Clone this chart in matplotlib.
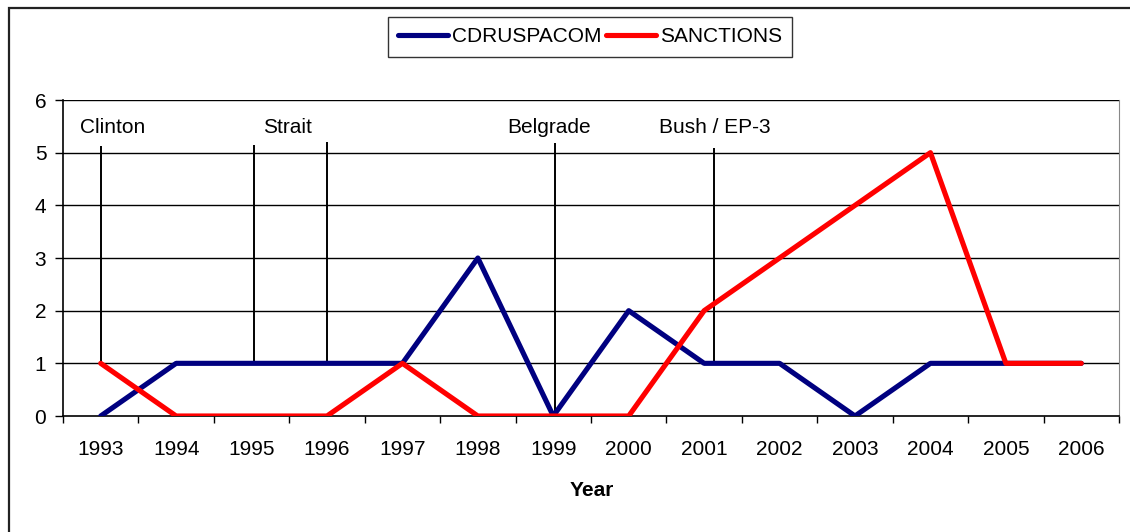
import matplotlib
matplotlib.use("Agg")
import matplotlib.pyplot as plt
from matplotlib.patches import Rectangle
from matplotlib.ticker import FixedLocator, NullFormatter

plt.rcParams['font.family'] = ['Liberation Sans', 'DejaVu Sans']

years = ['1993', '1994', '1995', '1996', '1997', '1998', '1999',
         '2000', '2001', '2002', '2003', '2004', '2005', '2006']
cdruspacom = [0, 1, 1, 1, 1, 3, 0, 2, 1, 1, 0, 1, 1, 1]
sanctions = [1, 0, 0, 0, 1, 0, 0, 0, 2, 3, 4, 5, 1, 1]

# events: (label, label x, line x positions, line bottoms, line tops)
event_labels = ['Clinton', 'Strait', 'Belgrade', 'Bush / EP-3']
event_label_x = [-0.275, 2.15, 5.39, 7.40]
event_line_x = [0.0, 2.03, 3.0, 6.02, 8.13]
event_line_bottom = [1, 1, 1, 0, 1]
event_line_top = [5.13, 5.15, 5.2, 5.18, 5.09]

W, H = 1130, 532
FS = 15
fig = plt.figure(figsize=(W / 100, H / 100), dpi=100)
ax = fig.add_axes([63 / W, 116 / H, (1119 - 63) / W, (416 - 100) / H])

x = list(range(len(years)))

# gridlines
ax.set_ylim(0, 6)
ax.set_xlim(-0.5, len(years) - 0.5)
ax.set_yticks(range(0, 7))
for v in range(1, 7):
    ax.axhline(v, color='black', lw=1.0, zorder=1)

# event lines
for lx, lb, lt in zip(event_line_x, event_line_bottom, event_line_top):
    ax.plot([lx, lx], [lb, lt], color='black', lw=1.4, zorder=2, solid_capstyle='butt')
for lab, lx in zip(event_labels, event_label_x):
    ax.text(lx, 5.47, lab, fontsize=FS, ha='left', va='center', color='black')

l1, = ax.plot(x, cdruspacom, color='#000080', lw=3.7, solid_capstyle='round',
              solid_joinstyle='round', zorder=3, label='CDRUSPACOM')
l2, = ax.plot(x, sanctions, color='#FF0000', lw=3.7, solid_capstyle='round',
              solid_joinstyle='round', zorder=4, label='SANCTIONS')

# axes styling
ax.spines['top'].set_visible(False)
ax.spines['right'].set_color('#888888')
ax.spines['left'].set_color('black')
ax.spines['bottom'].set_color('black')
ax.spines['left'].set_linewidth(1.2)
ax.spines['bottom'].set_linewidth(1.2)

ax.set_xticks(x)
ax.set_xticklabels(years)
ax.tick_params(axis='x', which='major', length=0, pad=17, labelsize=FS)
ax.xaxis.set_minor_locator(FixedLocator([i - 0.5 for i in range(len(years) + 1)]))
ax.xaxis.set_minor_formatter(NullFormatter())
ax.tick_params(axis='x', which='minor', length=5, width=1, color='black', direction='out')
ax.tick_params(axis='y', which='major', length=6, width=1, pad=6, labelsize=FS, direction='out')

fig.text(592 / W, 1 - 491 / H, 'Year', fontsize=FS, fontweight='bold',
         ha='center', va='center')

leg = fig.legend(handles=[l1, l2], loc='center', bbox_to_anchor=(590 / W, 1 - 37 / H),
                 ncol=2, fontsize=FS, frameon=True, fancybox=False, edgecolor='black',
                 handlelength=2.4, handletextpad=0.2, columnspacing=0.2,
                 borderpad=0.5, borderaxespad=0)
leg.get_frame().set_linewidth(1.0)

# outer chart border
fig.patches.append(Rectangle((9 / W, -0.1), 1.2, 1 - 8 / H + 0.1, transform=fig.transFigure,
                             fill=False, edgecolor='#222222', lw=1.6, zorder=0))

fig.savefig('out.png', dpi=100)
